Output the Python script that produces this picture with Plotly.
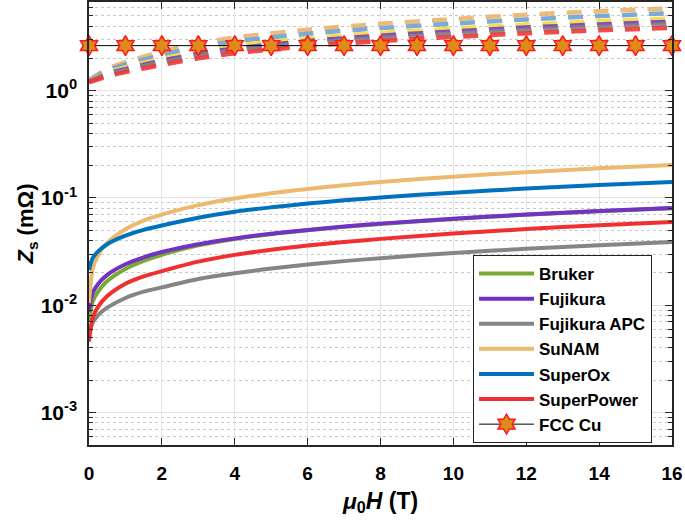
import plotly.graph_objects as go

# ---------------- data ----------------
x_solid = [0, 0.1, 0.25, 0.5, 1, 1.5, 2, 3, 4, 5, 6, 7, 8, 10, 12, 14, 16]
bruker = [0.0071, 0.0108, 0.0134, 0.0168, 0.0218, 0.0259, 0.0296, 0.0362, 0.0415, 0.0460, 0.0500, 0.0538, 0.0573, 0.0638, 0.0697, 0.0752, 0.0803]
fujikura = [0.0087, 0.0130, 0.0158, 0.0192, 0.0241, 0.0280, 0.0314, 0.0371, 0.0420, 0.0464, 0.0504, 0.0542, 0.0577, 0.0642, 0.0701, 0.0756, 0.0807]
fujikura_apc = [0.0053, 0.0069, 0.0081, 0.0095, 0.0117, 0.0134, 0.0147, 0.0176, 0.0199, 0.0220, 0.0240, 0.0258, 0.0275, 0.0307, 0.0336, 0.0363, 0.0389]
sunam = [0.0105, 0.0217, 0.0292, 0.0381, 0.0512, 0.0616, 0.0700, 0.0858, 0.0990, 0.1107, 0.1215, 0.1315, 0.1410, 0.1580, 0.1740, 0.1890, 0.2030]
superox = [0.0213, 0.0275, 0.0318, 0.0371, 0.0445, 0.0505, 0.0555, 0.0655, 0.0745, 0.0818, 0.0887, 0.0951, 0.1011, 0.1122, 0.1224, 0.1319, 0.1410]
superpower = [0.0046, 0.0076, 0.0097, 0.0122, 0.0159, 0.0186, 0.0208, 0.0255, 0.0295, 0.0329, 0.0360, 0.0389, 0.0416, 0.0467, 0.0513, 0.0557, 0.0597]

x_dash = [0, 0.5, 1, 2, 3, 4, 6, 8, 10, 12, 14, 16]
bruker_d = [1.22, 1.47, 1.65, 1.99, 2.32, 2.61, 3.07, 3.45, 3.79, 4.13, 4.43, 4.70]
fujikura_d = [1.21, 1.43, 1.59, 1.90, 2.21, 2.47, 2.90, 3.25, 3.56, 3.88, 4.14, 4.40]
fujikura_apc_d = [1.21, 1.40, 1.55, 1.83, 2.12, 2.37, 2.77, 3.10, 3.40, 3.68, 3.93, 4.16]
sunam_d = [1.25, 1.60, 1.85, 2.31, 2.75, 3.12, 3.70, 4.20, 4.65, 5.10, 5.50, 5.85]
superox_d = [1.24, 1.54, 1.75, 2.15, 2.54, 2.87, 3.39, 3.83, 4.22, 4.62, 4.96, 5.27]
superpower_d = [1.20, 1.36, 1.49, 1.74, 2.00, 2.23, 2.60, 2.90, 3.17, 3.43, 3.65, 3.86]

x_cu = list(range(0, 17))
cu = [2.63] * 17

names = ["Bruker", "Fujikura", "Fujikura APC", "SuNAM", "SuperOx", "SuperPower"]
solid_series = [bruker, fujikura, fujikura_apc, sunam, superox, superpower]
dash_series = [bruker_d, fujikura_d, fujikura_apc_d, sunam_d, superox_d, superpower_d]
solid_colors = ["#77AC30", "#7232C4", "#858585", "#EDB96E", "#0072BD", "#F03030"]
dash_colors = ["#F2DC3C", "#7A3CC0", "#858585", "#E9B46C", "#6EA2D6", "#F03838"]

y_tickvals = [1e-3, 1e-2, 1e-1, 1]
y_ticktext = ["10<sup>-3</sup>", "10<sup>-2</sup>", "10<sup>-1</sup>", "10<sup>0</sup>"]

FONT = "Liberation Sans, Arial, Helvetica, sans-serif"

fig = go.Figure()

# dashed curves (not in legend)
dash_order = [3, 4, 0, 1, 2, 5]
for i in dash_order:
    fig.add_trace(go.Scatter(
        x=x_dash, y=dash_series[i], mode="lines", showlegend=False,
        line=dict(color=dash_colors[i], width=4.5, dash="15px,12px", shape="spline", smoothing=0.8),
        opacity=0.9, hoverinfo="skip"))

# solid curves
for name, ys, col in zip(names, solid_series, solid_colors):
    fig.add_trace(go.Scatter(
        x=x_solid, y=ys, mode="lines", name=name,
        line=dict(color=col, width=4, shape="spline", smoothing=0.8)))

# FCC Cu
fig.add_trace(go.Scatter(
    x=x_cu, y=cu, mode="lines+markers", name="FCC Cu", cliponaxis=False,
    line=dict(color="black", width=1),
    marker=dict(symbol="hexagram", size=15, color="#DD8C1C",
                line=dict(color="#FF1A1A", width=1.5))))

minor_vals = []
for dec in [1e-4, 1e-3, 1e-2, 1e-1, 1]:
    for k in range(2, 10):
        minor_vals.append(k * dec)

fig.update_layout(
    width=685, height=523,
    margin=dict(l=89, r=13, t=2, b=78),
    paper_bgcolor="white", plot_bgcolor="white",
    font=dict(family=FONT, size=19, color="black", weight="bold"),
    legend=dict(
        x=0.6587, y=0.4289, xanchor="left", yanchor="top",
        bgcolor="white", bordercolor="#222222", borderwidth=1,
        font=dict(family=FONT, size=17, color="black", weight="bold"),
        itemwidth=55, tracegroupgap=0),
    showlegend=True,
)

fig.update_xaxes(
    range=[0, 16], dtick=2, tick0=0, automargin=False,
    ticks="inside", ticklen=7, tickwidth=1.2, tickcolor="#262626",
    showline=True, linecolor="#262626", linewidth=1.5, mirror="ticks",
    showgrid=True, gridcolor="#E3E3E3", gridwidth=1,
    zeroline=False, ticklabelstandoff=10,
    tickfont=dict(family=FONT, size=19, weight="bold"),
    title=dict(text="<i>μ</i><sub>0</sub><i>H</i> (T)", font=dict(family=FONT, size=23, weight="bold"), standoff=10),
)

fig.update_yaxes(
    type="log", range=[-3.302, 0.8266], automargin=False,
    tickmode="array", tickvals=y_tickvals, ticktext=y_ticktext,
    ticks="inside", ticklen=7, tickwidth=1.2, tickcolor="#262626",
    showline=True, linecolor="#262626", linewidth=1.5, mirror="ticks",
    showgrid=True, gridcolor="#E3E3E3", gridwidth=1,
    zeroline=False, ticklabelstandoff=6,
    tickfont=dict(family=FONT, size=21, weight="bold"),
    minor=dict(tickmode="array", tickvals=minor_vals, ticks="inside", ticklen=4,
               tickcolor="#262626", showgrid=True, gridcolor="#C8C8C8",
               griddash="dot", gridwidth=1),
    title=dict(text="<i>Z</i><sub>s</sub> (mΩ)", font=dict(family=FONT, size=22, weight="bold"), standoff=0),
)

fig.write_html("out.html", config={"displayModeBar": False},
               post_script="document.body.style.margin='0px';document.body.style.padding='0px';")
